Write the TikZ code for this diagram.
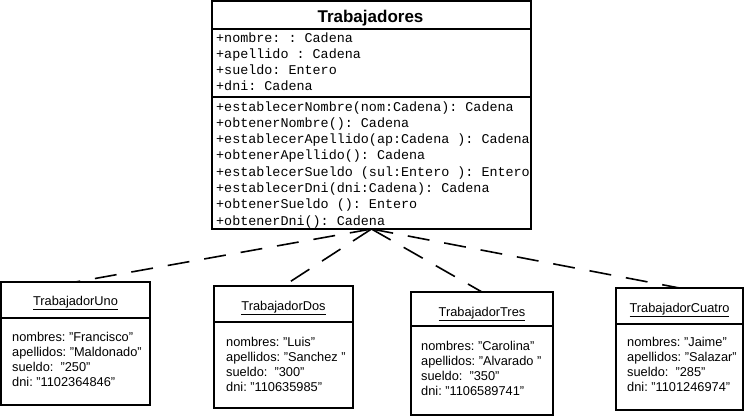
\documentclass[tikz,border=0pt]{standalone}
\usepackage{fontspec}
\setmainfont{Liberation Sans}
\newfontfamily\monof{Liberation Mono}
\begin{document}
\frenchspacing
\begin{tikzpicture}[x=1pt,y=-1pt,
  box/.style={draw, line width=1.6pt, rectangle, inner sep=0pt, outer sep=0pt, anchor=north west},
  mono/.style={font=\monof\fontsize{13.4}{16}\selectfont\frenchspacing, anchor=base west, inner sep=0pt},
  objtxt/.style={font=\fontsize{12.8}{15}\selectfont\frenchspacing, anchor=base west, inner sep=0pt},
  objtitle/.style={font=\fontsize{12.8}{15}\selectfont, anchor=base, inner sep=0pt},
  dep/.style={line width=1.6pt, dash pattern=on 22pt off 15pt},
  sepl/.style={line width=1.6pt}]
\useasboundingbox (0,0) rectangle (745,416);

% main class
\node[box, minimum width=319pt, minimum height=228pt] (trab) at (212,1) {};
\node[font=\bfseries\fontsize{17}{20}\selectfont, anchor=base, inner sep=0pt] (trabt) at (370.5,22) {Trabajadores};
\draw[sepl] (212,29) -- (531,29);
\draw[sepl] (212,97) -- (531,97);
\node[mono] (a1) at (216,42) {+nombre: : Cadena};
\node[mono] (a2) at (216,58.1) {+apellido : Cadena};
\node[mono] (a3) at (216,74.2) {+sueldo: Entero};
\node[mono] (a4) at (216,90.3) {+dni: Cadena};
\node[mono] (m1) at (216,111) {+establecerNombre(nom:Cadena): Cadena};
\node[mono] (m2) at (216,127.3) {+obtenerNombre(): Cadena};
\node[mono] (m3) at (216,143.6) {+establecerApellido(ap:Cadena ): Cadena};
\node[mono] (m4) at (216,159.9) {+obtenerApellido(): Cadena};
\node[mono] (m5) at (216,176.2) {+establecerSueldo (sul:Entero ): Entero};
\node[mono] (m6) at (216,192.5) {+establecerDni(dni:Cadena): Cadena};
\node[mono] (m7) at (216,208.8) {+obtenerSueldo (): Entero};
\node[mono] (m8) at (216,225.1) {+obtenerDni(): Cadena};

% object Uno
\node[box, minimum width=149pt, minimum height=123pt] (uno) at (1,282) {};
\node[objtitle] (unot) at (75.5,305) {\underline{TrabajadorUno}};
\draw[sepl] (1,318) -- (150,318);
\node[objtxt] (u1) at (12,341) {nombres: "Francisco"};
\node[objtxt] (u2) at (12,356.3) {apellidos: "Maldonado"};
\node[objtxt] (u3) at (12,371.6) {sueldo:\ \ "250"};
\node[objtxt] (u4) at (12,386.9) {dni: "1102364846"};

% object Dos
\node[box, minimum width=139pt, minimum height=122pt] (dos) at (214,286) {};
\node[objtitle] (dost) at (283.5,310) {\underline{TrabajadorDos}};
\draw[sepl] (214,322) -- (353,322);
\node[objtxt] (d1) at (226,346) {nombres: "Luis"};
\node[objtxt] (d2) at (226,361.3) {apellidos: "Sanchez "};
\node[objtxt] (d3) at (226,376.6) {sueldo:\ \ "300"};
\node[objtxt] (d4) at (226,391.9) {dni: "110635985"};

% object Tres
\node[box, minimum width=142pt, minimum height=123pt] (tres) at (411,292) {};
\node[objtitle] (trest) at (482,316) {\underline{TrabajadorTres}};
\draw[sepl] (411,326) -- (553,326);
\node[objtxt] (t1) at (421,350) {nombres: "Carolina"};
\node[objtxt] (t2) at (421,365.3) {apellidos: "Alvarado "};
\node[objtxt] (t3) at (421,380.6) {sueldo:\ \ "350"};
\node[objtxt] (t4) at (421,395.9) {dni: "1106589741"};

% object Cuatro
\node[box, minimum width=127pt, minimum height=122pt] (cuatro) at (616,288) {};
\node[objtitle] (cuatrot) at (679.5,312) {\underline{TrabajadorCuatro}};
\draw[sepl] (616,324) -- (743,324);
\node[objtxt] (c1) at (627,346) {nombres: "Jaime"};
\node[objtxt] (c2) at (627,361.3) {apellidos: "Salazar"};
\node[objtxt] (c3) at (627,376.6) {sueldo:\ \ "285"};
\node[objtxt] (c4) at (627,391.9) {dni: "1101246974"};

% connectors
\draw[dep] (trab.south) -- (uno.north);
\draw[dep] (trab.south) -- (dos.north);
\draw[dep] (trab.south) -- (tres.north);
\draw[dep] (trab.south) -- (cuatro.north);
\end{tikzpicture}
\end{document}
